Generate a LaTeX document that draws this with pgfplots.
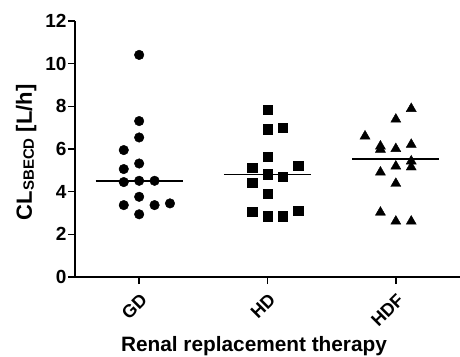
\documentclass[border=0pt]{standalone}
\usepackage{fontspec}
\setmainfont{Liberation Sans}
\usepackage{pgfplots}
\pgfplotsset{compat=1.18}
\begin{document}
\begin{tikzpicture}[x=1pt,y=1pt]
\begin{axis}[
  scale only axis,
  width=385pt, height=256pt,
  anchor=south west, at={(0,0)},
  xmin=-0.5, xmax=2.5, ymin=0, ymax=12,
  axis x line=bottom, axis y line=left,
  axis line style={-, line width=1.6pt},
  xtick={0,1,2}, xticklabels={GD,HD,HDF},
  ytick={0,2,4,6,8,10,12},
  tick align=outside,
  major tick length=7pt,
  tick style={black, line width=1.6pt},
  /pgf/number format/assume math mode=true,
  yticklabel style={font=\fontsize{19}{22}\selectfont\bfseries, xshift=2pt},
  xticklabel style={font=\fontsize{18}{21}\selectfont\bfseries, inner sep=0pt, xshift=4.8pt, yshift=-12.7pt, rotate=45, anchor=east},
  xlabel={Renal replacement therapy},
  ylabel={\fontsize{22}{26}\selectfont CL\raisebox{-2pt}{\fontsize{15}{17}\selectfont SBECD} [L/h]},
  label style={font=\fontsize{20.8}{24}\selectfont\bfseries, inner sep=0pt},
  x label style={at={(axis description cs:0.465,-0.292)}, anchor=base},
  y label style={at={(axis description cs:-0.1117,0.487)}, anchor=base},
  clip=false,
]
\addplot[only marks, mark=*, mark size=4.8pt, black] coordinates {
(0,10.41) (0,7.31) (0,6.54) (-0.12,5.95) (0,5.32) (-0.12,5.06) (-0.12,4.45)
(0,4.51) (0.12,4.51) (0,3.76) (-0.12,3.37) (0.12,3.37) (0.24,3.45) (0,2.94)};
\addplot[only marks, mark=square*, mark size=4.7pt, black] coordinates {
(1,7.83) (1,6.93) (1.12,7.01) (1,5.63) (1.24,5.21) (0.88,5.12) (1,4.82)
(1.12,4.70) (0.88,4.41) (1,3.91) (0.88,3.05) (1,2.85) (1.12,2.85) (1.24,3.10)};
\addplot[only marks, mark=triangle*, mark size=5.8pt, black] coordinates {
(2.12,7.89) (2,7.39) (1.76,6.60) (1.88,6.13) (1.88,5.98) (2,6.01) (2.12,6.21)
(2.12,5.43) (2.12,5.15) (2,5.19) (1.88,4.91) (2,4.38) (1.88,3.03) (2,2.61) (2.12,2.61)};
\addplot[black, line width=1.6pt] coordinates {(-0.34,4.51) (0.34,4.51)};
\addplot[black, line width=1.6pt] coordinates {(0.66,4.81) (1.34,4.81)};
\addplot[black, line width=1.6pt] coordinates {(1.66,5.53) (2.34,5.53)};
\end{axis}
\pgfresetboundingbox
\path[use as bounding box] (-75pt,-79pt) rectangle (385pt,277pt);
\end{tikzpicture}
\end{document}
